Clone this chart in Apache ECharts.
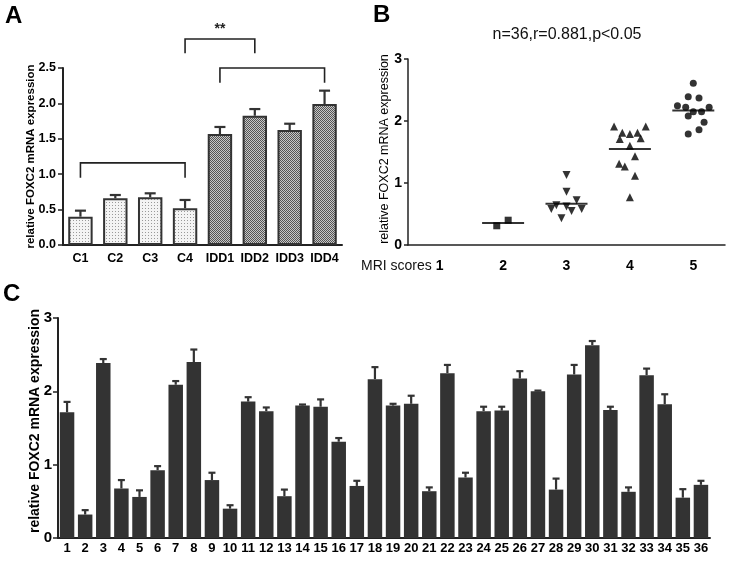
<!DOCTYPE html>
<html><head><meta charset="utf-8">
<script src="https://cdn.jsdelivr.net/npm/echarts@6/dist/echarts.min.js"></script>
<style>html,body{margin:0;padding:0;background:#fff}#c{width:729px;height:561px}</style>
</head><body><div id="c"></div>
<script>
// ---- Panel A data ----
const catsA = ['C1','C2','C3','C4','IDD1','IDD2','IDD3','IDD4'];
const meanA = [0.40,0.66,0.674,0.52,1.568,1.826,1.624,1.99];
const upperA = [0.485,0.706,0.73,0.636,1.667,1.92,1.713,2.18];
const ticksA = [0,0.5,1.0,1.5,2.0,2.5];
// brackets: [startIdx, endIdx, barLevel, legLevel, text]
const bracketsA = [[0,3,1.16,0.95,''],[4,7,2.5,2.29,''],[3,5,2.91,2.71,'**']];

// ---- Panel B data ----
const catsB = ['1','2','3','4','5'];
const score2X = [1.90,2.08];
const score2Y = [0.31,0.40];
const score3X = [3.00,3.00,3.16,2.84,2.76,3.00,3.08,3.24,2.92];
const score3Y = [1.13,0.86,0.72,0.64,0.58,0.62,0.55,0.58,0.43];
const score4X = [3.75,4.25,3.88,4.00,4.12,3.84,4.17,4.00,4.08,3.83,3.92,4.08,4.00];
const score4Y = [1.91,1.91,1.81,1.79,1.81,1.71,1.72,1.60,1.43,1.31,1.265,1.115,0.77];
const score5X = [5.00,4.92,5.09,4.75,4.88,5.00,5.13,5.25,4.92,5.17,5.09,4.92];
const score5Y = [2.61,2.39,2.37,2.245,2.22,2.15,2.15,2.22,2.08,1.98,1.86,1.79];
const meanB = [[2,0.355],[3,0.667],[4,1.55],[5,2.17]];

// ---- Panel C data ----
const catsC = ['1','2','3','4','5','6','7','8','9','10','11','12','13','14','15','16','17','18','19','20','21','22','23','24','25','26','27','28','29','30','31','32','33','34','35','36'];
const valsC = [1.715,0.32,2.385,0.675,0.56,0.925,2.09,2.40,0.79,0.40,1.86,1.73,0.57,1.806,1.79,1.313,0.71,2.166,1.806,1.83,0.638,2.248,0.825,1.73,1.737,2.175,2.0,0.66,2.23,2.63,1.746,0.63,2.22,1.824,0.55,0.725];
const upperC = [1.856,0.38,2.44,0.79,0.65,0.98,2.14,2.57,0.89,0.447,1.92,1.78,0.66,1.82,1.89,1.363,0.78,2.33,1.83,1.94,0.69,2.36,0.89,1.79,1.79,2.275,2.01,0.81,2.36,2.686,1.79,0.69,2.31,1.96,0.666,0.78];

const FONT = 'Liberation Sans, Arial, sans-serif';
const INK = '#222';

function makePattern(type){
  const cv = document.createElement('canvas');
  if(type==='dots'){
    cv.width=3; cv.height=3;
    const g=cv.getContext('2d');
    g.fillStyle='#f4f4f4'; g.fillRect(0,0,3,3);
    g.fillStyle='#9a9a9a'; g.fillRect(1,1,1,1);
  } else {
    cv.width=2; cv.height=2;
    const g=cv.getContext('2d');
    g.fillStyle='#c8c8c8'; g.fillRect(0,0,2,2);
    g.fillStyle='#555'; g.fillRect(0,0,1,1); g.fillRect(1,1,1,1);
  }
  return {image: cv, repeat:'repeat'};
}
const dotPat = makePattern('dots');
const chkPat = makePattern('check');

function errRender(capW, lw){
  return function(params, api){
    const i = api.value(0), top = api.value(1), up = api.value(2);
    const p0 = api.coord([i, top]), p1 = api.coord([i, up]);
    return {type:'group', children:[
      {type:'line', shape:{x1:p0[0],y1:p0[1],x2:p1[0],y2:p1[1]}, style:{stroke:'#333',lineWidth:lw}},
      {type:'line', shape:{x1:p1[0]-capW/2,y1:p1[1],x2:p1[0]+capW/2,y2:p1[1]}, style:{stroke:'#333',lineWidth:lw}}
    ]};
  };
}

const axisLbl = (size, extra)=>Object.assign({color:'#000', fontWeight:'bold', fontFamily:FONT, fontSize:size}, extra||{});

const option = {
  animation:false,
  backgroundColor:'#fff',
  title:{text:'n=36,r=0.881,p<0.05', left:562, top:22, textAlign:'center',
    textStyle:{fontFamily:FONT, fontSize:16, fontWeight:'normal', color:'#111'}},
  graphic:[
    {type:'text', left:5, top:4, style:{text:'A', font:'bold 24px '+FONT, fill:'#000'}},
    {type:'text', left:373, top:3, style:{text:'B', font:'bold 24px '+FONT, fill:'#000'}},
    {type:'text', left:3, top:282, style:{text:'C', font:'bold 24px '+FONT, fill:'#000'}},
    {type:'text', left:361, top:259, style:{text:'MRI scores', font:'14px '+FONT, fill:'#111'}}
  ],
  grid:[
    {left:63, top:68, width:279, height:177},
    {left:408, top:59, width:317, height:186},
    {left:58, top:318, width:652, height:220}
  ],
  xAxis:[
    {gridIndex:0, type:'category', data:catsA, boundaryGap:true,
     axisLine:{lineStyle:{color:INK,width:2}}, axisTick:{alignWithLabel:true,length:5,lineStyle:{color:INK,width:1.5}},
     axisLabel:axisLbl(12.5,{margin:7, interval:0})},
    {gridIndex:1, type:'category', data:catsB, boundaryGap:true,
     axisLine:{lineStyle:{color:INK,width:1.5}}, axisTick:{alignWithLabel:true,length:6,lineStyle:{color:INK,width:1.5}},
     axisLabel:axisLbl(14,{margin:14, interval:0})},
    {gridIndex:1, type:'value', min:0.5, max:5.5, show:false},
    {gridIndex:2, type:'category', data:catsC, boundaryGap:true,
     axisLine:{lineStyle:{color:INK,width:2}}, axisTick:{alignWithLabel:true,length:4,lineStyle:{color:INK,width:1.5}},
     axisLabel:axisLbl(13,{margin:4, interval:0})}
  ],
  yAxis:[
    {gridIndex:0, type:'value', min:0, max:2.5, interval:0.5,
     name:'relative FOXC2 mRNA expression', nameLocation:'middle', nameGap:26, nameMoveOverlap:false,
     nameTextStyle:{fontFamily:FONT, fontWeight:'bold', fontSize:11.5, color:'#000'},
     splitLine:{show:false}, axisLine:{show:true,lineStyle:{color:INK,width:2}},
     axisTick:{show:true,length:5,lineStyle:{color:INK,width:1.5}},
     axisLabel:axisLbl(12.5,{margin:7, formatter:v=>v.toFixed(1)})},
    {gridIndex:1, type:'value', min:0, max:3, interval:1,
     name:'relative FOXC2 mRNA expression', nameLocation:'middle', nameGap:17, nameMoveOverlap:false,
     nameTextStyle:{fontFamily:FONT, fontWeight:'normal', fontSize:12.5, color:'#000', padding:[0,0,0,6]},
     splitLine:{show:false}, axisLine:{show:true,lineStyle:{color:INK,width:1.5}},
     axisTick:{show:true,length:4,lineStyle:{color:INK,width:1.5}},
     axisLabel:axisLbl(14,{margin:6})},
    {gridIndex:2, type:'value', min:0, max:3, interval:1,
     name:'relative FOXC2 mRNA expression', nameLocation:'middle', nameGap:16, nameMoveOverlap:false,
     nameTextStyle:{fontFamily:FONT, fontWeight:'bold', fontSize:14, color:'#000', padding:[0,0,0,14]},
     splitLine:{show:false}, axisLine:{show:true,lineStyle:{color:INK,width:2}},
     axisTick:{show:true,length:5,lineStyle:{color:INK,width:1.5}},
     axisLabel:axisLbl(15,{margin:6})}
  ],
  series:[
    {type:'bar', xAxisIndex:0, yAxisIndex:0, barWidth:'70%',
     data: meanA.map((v,i)=>({value:v, itemStyle:{color: i<4?dotPat:chkPat, borderColor:'#333', borderWidth:2}})), z:3},
    {type:'custom', xAxisIndex:0, yAxisIndex:0, renderItem:errRender(11,2.2),
     data: meanA.map((v,i)=>[i,v,upperA[i]]), z:2},
    {type:'custom', xAxisIndex:0, yAxisIndex:0, clip:false, z:4,
     renderItem:function(params, api){
       const s=api.value(0), e=api.value(1), lvl=api.value(2), leg=api.value(3);
       const txt = bracketsA[params.dataIndex][4];
       const a=api.coord([s,lvl]), b=api.coord([e,lvl]), al=api.coord([s,leg]), bl=api.coord([e,leg]);
       const ch=[{type:'polyline', shape:{points:[[al[0],al[1]],[a[0],a[1]],[b[0],b[1]],[bl[0],bl[1]]]}, style:{stroke:'#222',lineWidth:1.6,fill:null}}];
       if(txt){ ch.push({type:'text', style:{text:txt, x:(a[0]+b[0])/2, y:a[1]-10, textAlign:'center', textVerticalAlign:'middle', font:'bold 14px '+FONT, fill:'#222'}}); }
       return {type:'group', children:ch};
     },
     data: bracketsA.map(b=>[b[0],b[1],b[2],b[3]])},
    {type:'scatter', xAxisIndex:2, yAxisIndex:1, symbol:'rect', symbolSize:7, itemStyle:{color:'#000'},
     data: score2X.map((x,i)=>[x,score2Y[i]])},
    {type:'scatter', xAxisIndex:2, yAxisIndex:1, symbol:'triangle', symbolRotate:180, symbolSize:8, itemStyle:{color:'#000'},
     data: score3X.map((x,i)=>[x,score3Y[i]])},
    {type:'scatter', xAxisIndex:2, yAxisIndex:1, symbol:'triangle', symbolSize:8, itemStyle:{color:'#000'},
     data: score4X.map((x,i)=>[x,score4Y[i]])},
    {type:'scatter', xAxisIndex:2, yAxisIndex:1, symbol:'circle', symbolSize:7, itemStyle:{color:'#000'},
     data: score5X.map((x,i)=>[x,score5Y[i]])},
    {type:'scatter', xAxisIndex:2, yAxisIndex:1, symbol:'rect', symbolSize:[42,2], itemStyle:{color:'#000'},
     data: meanB, z:1},
    {type:'bar', xAxisIndex:3, yAxisIndex:2, barWidth:'80%', itemStyle:{color:'#333'}, data: valsC, z:3},
    {type:'custom', xAxisIndex:3, yAxisIndex:2, renderItem:errRender(7,2.2),
     data: valsC.map((v,i)=>[i,v,upperC[i]]), z:2}
  ]
};
const chart = echarts.init(document.getElementById('c'), null, {renderer:'canvas'});
chart.setOption(option);
</script></body></html>
